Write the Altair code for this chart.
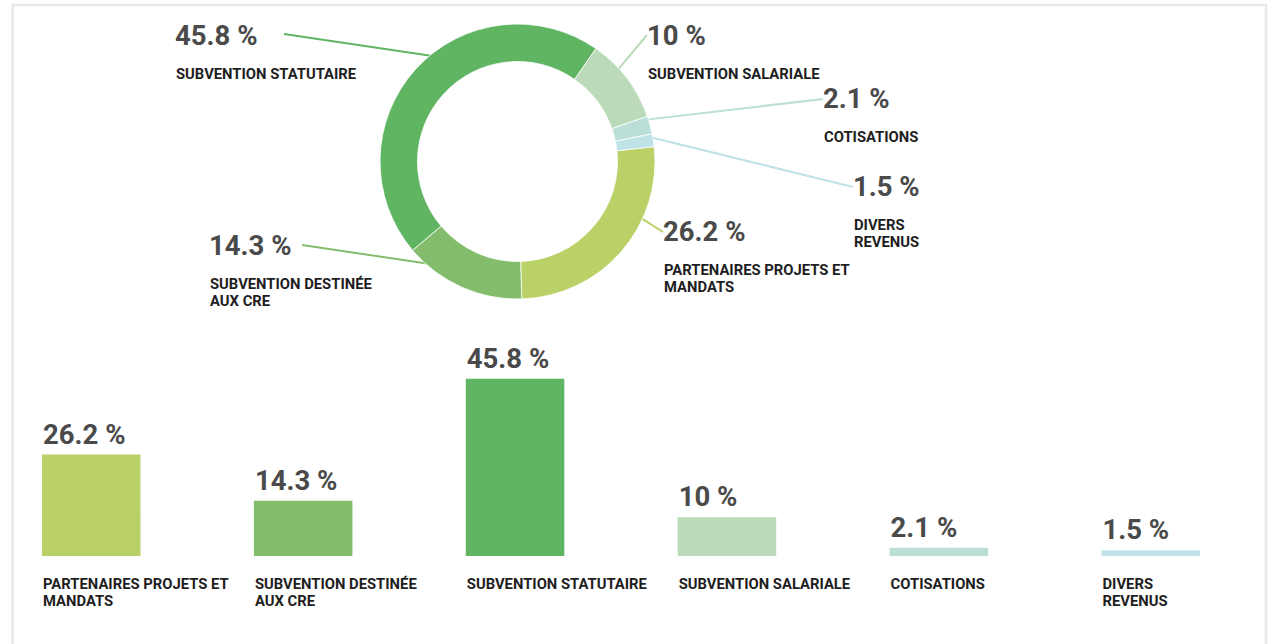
import math
import altair as alt
import pandas as pd

# ---------------- data ----------------
categories = [
    "PARTENAIRES PROJETS ET MANDATS",
    "SUBVENTION DESTINÉE AUX CRE",
    "SUBVENTION STATUTAIRE",
    "SUBVENTION SALARIALE",
    "COTISATIONS",
    "DIVERS REVENUS",
]
label_lines = [
    "PARTENAIRES PROJETS ET\nMANDATS",
    "SUBVENTION DESTINÉE\nAUX CRE",
    "SUBVENTION STATUTAIRE",
    "SUBVENTION SALARIALE",
    "COTISATIONS",
    "DIVERS\nREVENUS",
]
values = [26.2, 14.3, 45.8, 10.0, 2.1, 1.5]
colors = ["#b9d166", "#83bd6c", "#5fb562", "#badab9", "#badfd6", "#bfe2e7"]

# ---------------- layout (annotation placement, pixels) ----------------
W, H = 1272, 644
CX, CY = 517.5, 161.5
R_OUT, R_IN = 137.5, 100
START_DEG = 83.8
conn_angle = [114.6, 221.0, 321.1, 47.6, 72.0, 79.7]
label_x = [663, 209, 175, 647, 823, 853]
label_y = [241, 255, 45, 45, 108, 196]
end_x = [663, 302, 284, 647, 823, 853]
end_y = [232, 245, 34, 35, 99, 187]

df = pd.DataFrame({
    "cat": categories,
    "label": label_lines,
    "value": values,
    "pct": [f"{v:g} %" for v in values],
    "idx": list(range(len(categories))),
    "lx": label_x,
    "ly": label_y,
    "ex": end_x,
    "ey": end_y,
    "ang": conn_angle,
})

color_scale = alt.Scale(domain=categories, range=colors)
px = alt.Scale(domain=[0, W], range=[0, W])
py = alt.Scale(domain=[0, H], range=[0, H])
FONT = "Roboto"
VAL_COLOR = "#4a4a4a"
CAT_COLOR = "#1e1e1e"
VAL_SIZE = 27.5
CAT_SIZE = 14.8

base = alt.Chart(df)

# frame
frame = alt.Chart(pd.DataFrame({"a": [0]})).mark_rect(
    filled=False, stroke="#e8e8e8", strokeWidth=2.5
).encode(x=alt.value(12.5), x2=alt.value(1266), y=alt.value(5), y2=alt.value(700))

# leader lines
rules = base.transform_calculate(
    sx=f"{CX} + {R_OUT - 2}*sin(datum.ang*PI/180)",
    sy=f"{CY} - {R_OUT - 2}*cos(datum.ang*PI/180)",
).mark_rule(strokeWidth=2).encode(
    x=alt.X("sx:Q", scale=px, axis=None),
    y=alt.Y("sy:Q", scale=py, axis=None),
    x2="ex:Q",
    y2="ey:Q",
    color=alt.Color("cat:N", scale=color_scale, legend=None),
)

a0 = START_DEG * math.pi / 180
arc = base.mark_arc(innerRadius=R_IN, outerRadius=R_OUT, stroke="white", strokeWidth=0.8).encode(
    theta=alt.Theta("value:Q", stack=True, scale=alt.Scale(range=[a0, a0 + 2 * math.pi])),
    color=alt.Color("cat:N", scale=color_scale, legend=None),
    order=alt.Order("idx:Q"),
    x=alt.value(CX),
    y=alt.value(CY),
)

donut_pct = base.mark_text(
    align="left", baseline="alphabetic", font=FONT, fontWeight="bold", fontSize=VAL_SIZE, color=VAL_COLOR
).encode(
    x=alt.X("lx:Q", scale=px, axis=None),
    y=alt.Y("ly:Q", scale=py, axis=None),
    text="pct:N",
)

donut_cat = base.transform_calculate(
    cx="datum.lx + 1", cy="datum.ly + 34"
).mark_text(
    align="left", baseline="alphabetic", font=FONT, fontWeight="bold", fontSize=CAT_SIZE,
    lineBreak="\n", lineHeight=17, color=CAT_COLOR
).encode(
    x=alt.X("cx:Q", scale=px, axis=None),
    y=alt.Y("cy:Q", scale=py, axis=None),
    text="label:N",
)

# bar chart
xband = alt.Scale(domain=categories, range=[42, 1200], paddingInner=0.535, paddingOuter=0)
ybar = alt.Scale(domain=[0, 100], range=[556, 169])

bars = base.mark_bar().encode(
    x=alt.X("cat:N", scale=xband, axis=None, sort=categories),
    y=alt.Y("value:Q", scale=ybar, axis=None),
    color=alt.Color("cat:N", scale=color_scale, legend=None),
)
bar_pct = base.mark_text(
    align="left", baseline="alphabetic", font=FONT, fontWeight="bold", fontSize=VAL_SIZE,
    color=VAL_COLOR, dx=1, dy=-11
).encode(
    x=alt.X("cat:N", scale=xband, axis=None, sort=categories, bandPosition=0),
    y=alt.Y("value:Q", scale=ybar, axis=None),
    text="pct:N",
)
bar_cat = base.mark_text(
    align="left", baseline="alphabetic", font=FONT, fontWeight="bold", fontSize=CAT_SIZE,
    lineBreak="\n", lineHeight=17, color=CAT_COLOR, dx=1
).encode(
    x=alt.X("cat:N", scale=xband, axis=None, sort=categories, bandPosition=0),
    y=alt.value(589),
    text="label:N",
)
bar_layer = alt.layer(bars, bar_pct, bar_cat)

chart = alt.layer(
    frame, rules, arc, donut_pct, donut_cat, bar_layer
).resolve_scale(
    x="independent", y="independent"
).properties(
    width=W, height=H, padding=0, autosize=alt.AutoSizeParams(type="none"), background="white"
).configure_view(stroke=None)

chart.save("out.html", embed_options={"renderer": "svg", "actions": False})
